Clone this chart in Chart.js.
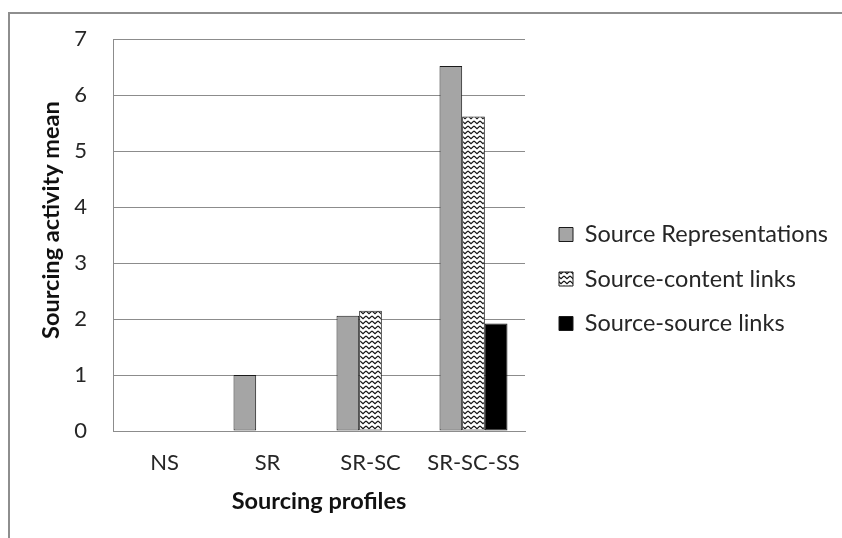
<!DOCTYPE html>
<html>
<head>
<meta charset="utf-8">
<script src="https://cdn.jsdelivr.net/npm/chart.js@4.4.1/dist/chart.umd.min.js"></script>
<style>
  html, body { margin: 0; padding: 0; background: #fff; }
  #wrap { position: relative; width: 842px; height: 538px; overflow: hidden; }
  #frame { position: absolute; left: 8px; top: 12px; width: 900px; height: 600px;
           border: 2px solid #8e8e8e; box-sizing: border-box; }
  canvas { position: absolute; left: 0; top: 0; }
</style>
</head>
<body>
<div id="wrap">
  <div id="frame"></div>
  <canvas id="c" width="842" height="538"></canvas>
</div>
<script>
// Sourcing profiles and mean sourcing activity per profile
const profiles = ['NS', 'SR', 'SR-SC', 'SR-SC-SS'];
const sourceRepresentations = [0, 1.0, 2.06, 6.52];
const sourceContentLinks = [0, 0, 2.15, 5.62];
const sourceSourceLinks = [0, 0, 0, 1.92];
const seriesNames = ['Source Representations', 'Source-content links', 'Source-source links'];
const yTicks = [0, 1, 2, 3, 4, 5, 6, 7];
const yTitle = 'Sourcing activity mean';
const xTitle = 'Sourcing profiles';

const FONT = 'Lato, "Open Sans", "DejaVu Sans", sans-serif';

// Wavy-line fill used for the source-content bars
function wavePattern() {
  const t = document.createElement('canvas');
  t.width = 6; t.height = 5;
  const g = t.getContext('2d');
  g.fillStyle = '#ffffff';
  g.fillRect(0, 0, 6, 5);
  g.strokeStyle = '#111111';
  g.lineWidth = 1.2;
  g.beginPath();
  g.moveTo(0, 1);
  g.lineTo(3, 3.6);
  g.lineTo(6, 1);
  g.stroke();
  return document.getElementById('c').getContext('2d').createPattern(t, 'repeat');
}

// Fixed-width legend column on the right, items nudged into place
const LEGEND_WIDTH = 317;
const legendLayout = {
  id: 'legendLayout',
  beforeLayout(chart) {
    const lg = chart.legend;
    if (!lg || lg._fixedWidth) return;
    const fit = lg.fit;
    lg.fit = function () { fit.call(this); this.width = LEGEND_WIDTH; };
    lg._fixedWidth = true;
  },
  afterLayout(chart) {
    const lg = chart.legend;
    if (!lg) return;
    lg.left += 13; lg.right += 13;
    lg.top += 10; lg.bottom += 10;
  }
};

// Rotated value-axis title, placed in the strip left of the tick labels
const valueAxisTitle = {
  id: 'valueAxisTitle',
  afterDraw(chart) {
    const ctx = chart.ctx;
    const area = chart.chartArea;
    ctx.save();
    ctx.translate(area.left - 62, (area.top + area.bottom) / 2 - 15);
    ctx.rotate(-Math.PI / 2);
    ctx.font = 'bold 23.5px ' + FONT;
    ctx.fillStyle = '#111';
    ctx.textAlign = 'center';
    ctx.textBaseline = 'middle';
    ctx.fillText(yTitle, 0, 0);
    ctx.restore();
  }
};

const barStyle = { borderColor: '#1a1a1a', borderWidth: 1, borderSkipped: false,
                   categoryPercentage: 0.66, barPercentage: 1.0 };

new Chart(document.getElementById('c'), {
  type: 'bar',
  data: {
    labels: profiles,
    datasets: [
      Object.assign({ label: seriesNames[0], data: sourceRepresentations, backgroundColor: '#a5a5a5' }, barStyle),
      Object.assign({ label: seriesNames[1], data: sourceContentLinks, backgroundColor: wavePattern() }, barStyle),
      Object.assign({ label: seriesNames[2], data: sourceSourceLinks, backgroundColor: '#000000' }, barStyle)
    ]
  },
  options: {
    responsive: false,
    animation: false,
    devicePixelRatio: 1,
    layout: { padding: { left: 38, top: 22, right: 0, bottom: 22 } },
    plugins: {
      tooltip: { enabled: false },
      legend: {
        position: 'right',
        align: 'center',
        maxWidth: 400,
        labels: {
          boxWidth: 14, boxHeight: 14, padding: 21,
          color: '#262626',
          font: { family: FONT, size: 23.5 }
        }
      }
    },
    scales: {
      x: {
        grid: { display: false, drawTicks: false },
        border: { display: true, color: '#8c8c8c', width: 1 },
        ticks: { color: '#262626', padding: 19, font: { family: FONT, size: 22 } },
        title: { display: true, text: xTitle, color: '#111',
                 padding: { top: 0, bottom: 0 },
                 font: { family: FONT, size: 23.5, weight: 'bold' } },
        afterFit(scale) { scale.height = 85; }
      },
      y: {
        min: 0, max: 7,
        afterBuildTicks(scale) { scale.ticks = yTicks.map(v => ({ value: v })); },
        grid: { color: '#8c8c8c', lineWidth: 1, drawTicks: false },
        border: { display: true, color: '#8c8c8c', width: 1 },
        ticks: { color: '#262626', padding: 26, font: { family: FONT, size: 22 } },
        title: { display: false },
        afterFit(scale) { scale.width = 75; }
      }
    }
  },
  plugins: [legendLayout, valueAxisTitle]
});
</script>
</body>
</html>
